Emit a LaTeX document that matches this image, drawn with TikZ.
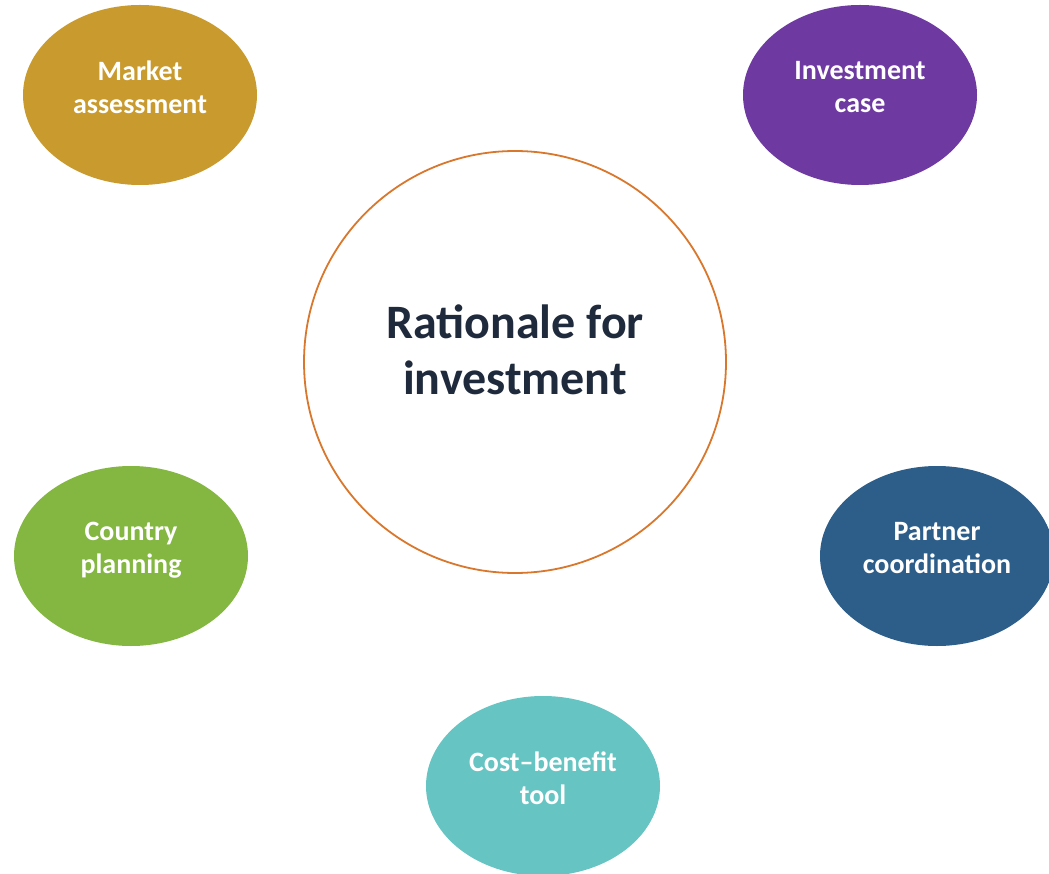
\documentclass[tikz,border=0pt]{standalone}
\usepackage{fontspec}
\setmainfont{Carlito}
\usetikzlibrary{shapes.geometric}
\definecolor{cgold}{HTML}{C99A2E}
\definecolor{cpurple}{HTML}{6E3AA2}
\definecolor{cgreen}{HTML}{84B642}
\definecolor{cblue}{HTML}{2D5E8A}
\definecolor{cteal}{HTML}{66C5C3}
\definecolor{corange}{HTML}{D9782D}
\definecolor{cdark}{HTML}{1F2A3C}
\tikzset{
  blob/.style={ellipse, inner sep=0pt, minimum width=234pt, minimum height=180pt},
  lbl/.style={text=white, align=center, font=\fontsize{28}{33}\selectfont\bfseries},
}
\begin{document}
\begin{tikzpicture}[x=1pt,y=-1pt]
\useasboundingbox (0,0) rectangle (1049,874);
\clip (0,0) rectangle (1049,874);
\node[blob, fill=cgold] (ma) at (140,95) {};
\node[lbl] (mat) at (140,87) {Market\\assessment};
\node[blob, fill=cpurple] (ic) at (860,95) {};
\node[lbl] (ict) at (860,87) {Investment\\case};
\node[blob, fill=cgreen] (cp) at (131,556) {};
\node[lbl] (cpt) at (131,550) {Country\\planning};
\node[blob, fill=cblue] (pc) at (937,556) {};
\node[lbl] (pct) at (937,548) {Partner\\coordination};
\node[blob, fill=cteal] (cb) at (543,786) {};
\node[lbl] (cbt) at (543,778) {Cost–benefit\\tool};
\node[circle, draw=corange, line width=1.8pt, fill=white, minimum size=422pt, inner sep=0pt] (c) at (515,362) {};
\node[text=cdark, align=center, font=\fontsize{48}{56}\selectfont\bfseries] (ct) at (515,350) {Rationale for\\investment};
\end{tikzpicture}
\end{document}
